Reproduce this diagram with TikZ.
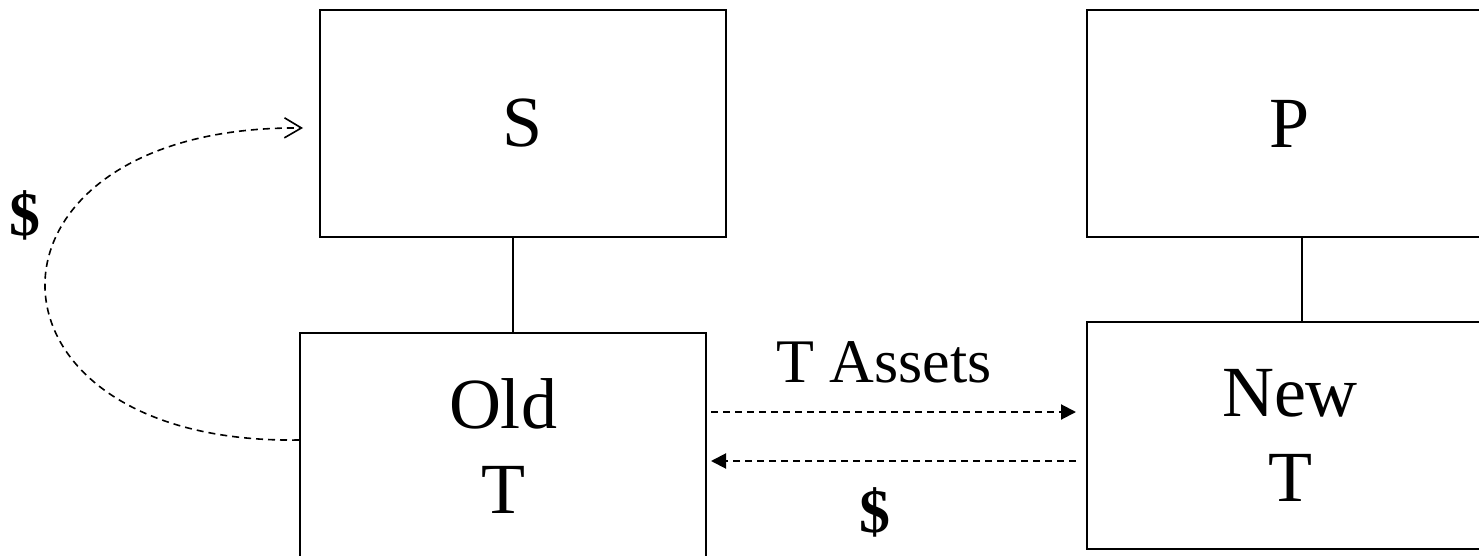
\documentclass[tikz,border=0pt]{standalone}
\usepackage{fontspec}
\setmainfont{Liberation Serif}
\usetikzlibrary{calc, arrows.meta}
\newcommand{\boxfont}{\fontsize{72}{85}\selectfont}
\newcommand{\labfont}{\fontsize{62}{70}\selectfont}

\begin{document}
\begin{tikzpicture}[x=1pt, y=-1pt,
		entity/.style={draw, line width=2pt, minimum width=406pt, minimum height=227pt,
			inner sep=0pt, align=center, font=\boxfont},
		flow/.style={line width=2pt, dash pattern=on 7pt off 5pt, -{Triangle[length=15pt,width=15pt]}},
		back/.style={line width=1.6pt, dash pattern=on 7pt off 5pt, -{Straight Barb[length=17pt,width=20pt,line width=1.6pt]}}]
	\clip (0,0) rectangle (1479,556);%
	%
	\node[entity] (s) at (523,123.5) {S};%
	\node[entity] (p) at (1290,123.5) {P};%
	\node[entity] (oldt) at (503,446.5) {Old\\T};%
	\node[entity] (newt) at (1290,435) {New\\T};%
	%
	\draw[line width=2pt] ($(s.south)+(-10,0)$) -- ($(oldt.north)+(10,0)$);%
	\draw[line width=2pt] ($(p.south)+(12,0)$) -- ($(newt.north)+(12,0)$);%
	%
	\draw[flow] ($(oldt.east)+(4,-34.5)$) -- ($(newt.west)+(-10,-23)$);%
	\draw[flow] ($(newt.west)+(-10,26)$) -- ($(oldt.east)+(4,14.5)$);%
	\draw[back] ($(oldt.west)+(0,-6.5)$) .. controls (-40,445) and (-40,125) .. ($(s.west)+(-16,4.5)$);%
	%
	\node[font=\labfont] (assets) at (884,362) {T Assets};%
	\node[font=\labfont\bfseries] (paid) at (875,512) {\$};%
	\node[font=\labfont\bfseries] (cash) at (25,215) {\$};%
\end{tikzpicture}
\end{document}
